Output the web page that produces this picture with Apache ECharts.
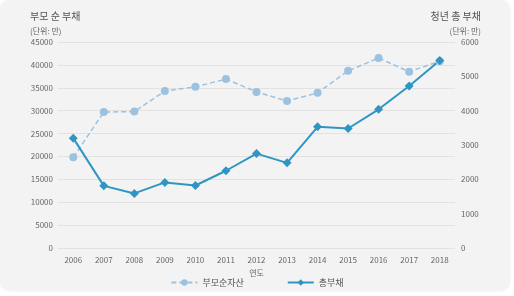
<!DOCTYPE html>
<html>
<head>
<meta charset="utf-8">
<script src="https://cdn.jsdelivr.net/npm/echarts@6/dist/echarts.min.js"></script>
<style>
	html, body { margin: 0; padding: 0; background: #ffffff; }
	#card { position: absolute; left: 0; top: 0; width: 510px; height: 291px; background: #f3f3f3; border-radius: 10px; box-shadow: 0 0 3px rgba(0,0,0,0.08); }
	#main { position: absolute; left: 0; top: 0; width: 514px; height: 296px; }
</style>
</head>
<body>
<div id="card"></div>
<div id="main"></div>
<script>
var years = ["2006", "2007", "2008", "2009", "2010", "2011", "2012", "2013", "2014", "2015", "2016", "2017", "2018"];
var parentNet = [19800, 29700, 29800, 34300, 35200, 36900, 34100, 32100, 33900, 38700, 41500, 38500, 40800];
var totalDebt = [3200, 1810, 1590, 1910, 1820, 2250, 2750, 2480, 3530, 3480, 4040, 4720, 5460];

var font = "'Noto Sans CJK KR', 'Noto Sans', sans-serif";
var myChart = echarts.init(document.querySelector("#main"));

// 천 단위 구분 없이 표시
function plain(v) {
	return String(v);
}

var option = {
	textStyle: { fontFamily: font },
	title: [
		{ text: "부모 순 부채", left: 25, top: 6, textStyle: { fontSize: 10, fontWeight: "normal", color: "#555", fontFamily: font } },
		{ text: "(단위: 만)", left: 25, top: 22, textStyle: { fontSize: 8, fontWeight: "normal", color: "#666", fontFamily: font } },
		{ text: "청년 총 부채", right: 28, top: 6, textStyle: { fontSize: 10, fontWeight: "normal", color: "#555", fontFamily: font } },
		{ text: "(단위: 만)", right: 28, top: 22, textStyle: { fontSize: 8, fontWeight: "normal", color: "#666", fontFamily: font } }
	],
	legend: {
		bottom: 4,
		left: "center",
		itemWidth: 26,
		itemHeight: 8,
		itemGap: 43,
		textStyle: { fontSize: 9, color: "#555", fontFamily: font },
		data: ["부모순자산", "총부채"]
	},
	grid: { left: 58, right: 59, top: 42, bottom: 48 },
	xAxis: {
		type: "category",
		data: years,
		name: "연도",
		nameLocation: "middle",
		nameGap: 20,
		nameTextStyle: { fontSize: 8, color: "#666" },
		axisLine: { show: false },
		axisTick: { show: false },
		axisLabel: { fontSize: 8, color: "#666", margin: 8 }
	},
	yAxis: [
		{
			type: "value", min: 0, max: 45000, interval: 5000,
			axisLabel: { fontSize: 8, color: "#666", margin: 5, formatter: plain },
			splitLine: { lineStyle: { color: "#e2e2e2" } }
		},
		{
			type: "value", min: 0, max: 6000, interval: 1000,
			axisLabel: { fontSize: 8, color: "#666", margin: 6, formatter: plain },
			splitLine: { show: false }
		}
	],
	series: [
		{
			name: "부모순자산",
			type: "line",
			yAxisIndex: 0,
			data: parentNet,
			symbol: "circle",
			symbolSize: 8,
			itemStyle: { color: "#9cc2e0" },
			lineStyle: { color: "#9cc2e0", width: 1.5, type: [5, 3] }
		},
		{
			name: "총부채",
			type: "line",
			yAxisIndex: 1,
			data: totalDebt,
			symbol: "diamond",
			symbolSize: 9,
			itemStyle: { color: "#2f96c3" },
			lineStyle: { color: "#2f96c3", width: 2 }
		}
	]
};
myChart.setOption(option);
</script>
</body>
</html>
